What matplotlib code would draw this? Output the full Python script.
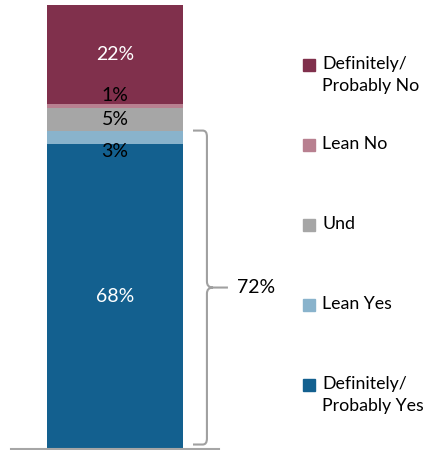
import matplotlib.pyplot as plt
import matplotlib.transforms as mtransforms
from matplotlib.path import Path
from matplotlib.patches import PathPatch, Rectangle

plt.rcParams['font.family'] = ['Lato', 'DejaVu Sans']

# stacked from the bottom up
labels = ["Definitely/\nProbably Yes", "Lean Yes", "Und", "Lean No", "Definitely/\nProbably No"]
values = [68, 3, 5, 1, 22]
colors = ["#13608f", "#89b3cc", "#a6a6a6", "#b88090", "#80304c"]
text_colors = ["white", "black", "black", "black", "white"]
label_shift = [0, -14, 0, 10, 0]   # px nudges for the thin segments
yes_total = "72%"

fig = plt.figure(figsize=(4.34, 4.5), dpi=100)
W, H = 434, 450
ax = fig.add_axes([11 / W, 1 - 449 / H, 208 / W, 444 / H])

bottom = 0
for v, c, tc, dy in zip(values, colors, text_colors, label_shift):
    ax.bar(0, v, bottom=bottom, width=0.654, color=c, linewidth=0)
    ax.annotate(f"{v}%", (0, bottom + v / 2), xytext=(0, dy * 0.72), textcoords="offset points",
                ha="center", va="center", color=tc, fontsize=14)
    bottom += v

ax.set_xlim(-0.5, 0.5)
ax.set_ylim(0, sum(values))
ax.set_xticks([])
ax.set_yticks([])
for s in ["top", "left", "right"]:
    ax.spines[s].set_visible(False)
ax.spines["bottom"].set_color("#a6a6a6")
ax.spines["bottom"].set_linewidth(1.5)

# brace over the "yes" part
trans = mtransforms.blended_transform_factory(ax.transAxes, ax.transData)
ytop = values[0] + values[1]
ybot = 1
ymid = (ytop + ybot) / 2
r = 6 * sum(values) / 444
x0, xv, xc, xe = 0.875, 0.942, 0.971, 1.043
verts = [(x0, ytop), (xv - 0.02, ytop), (xv, ytop), (xv, ytop - r),
         (xv, ymid + r), (xv, ymid), (xc, ymid),
         (xv, ymid), (xv, ymid - r),
         (xv, ybot + r), (xv, ybot), (xv - 0.02, ybot), (x0, ybot),
         (xc, ymid), (xe, ymid)]
codes = [Path.MOVETO, Path.LINETO, Path.CURVE3, Path.CURVE3,
         Path.LINETO, Path.CURVE3, Path.CURVE3,
         Path.CURVE3, Path.CURVE3,
         Path.LINETO, Path.CURVE3, Path.CURVE3, Path.LINETO,
         Path.MOVETO, Path.LINETO]
ax.add_patch(PathPatch(Path(verts, codes), transform=trans, fill=False,
                       edgecolor="#a0a0a0", lw=1.5, clip_on=False))
ax.text(1.085, ymid, yes_total, transform=trans, ha="left", va="center", fontsize=14)

# legend, top entry first
legend_y = [65, 145, 225, 305, 385]
for lab, c, y in zip(labels[::-1], colors[::-1], legend_y):
    fig.patches.append(Rectangle((303 / W, 1 - (y + 6) / H), 12 / W, 12 / H,
                                 transform=fig.transFigure, color=c))
    fig.text(322 / W, 1 - (y - 9) / H, lab, ha="left", va="top", fontsize=12.8, linespacing=1.45)

fig.savefig("out.png", dpi=100)
